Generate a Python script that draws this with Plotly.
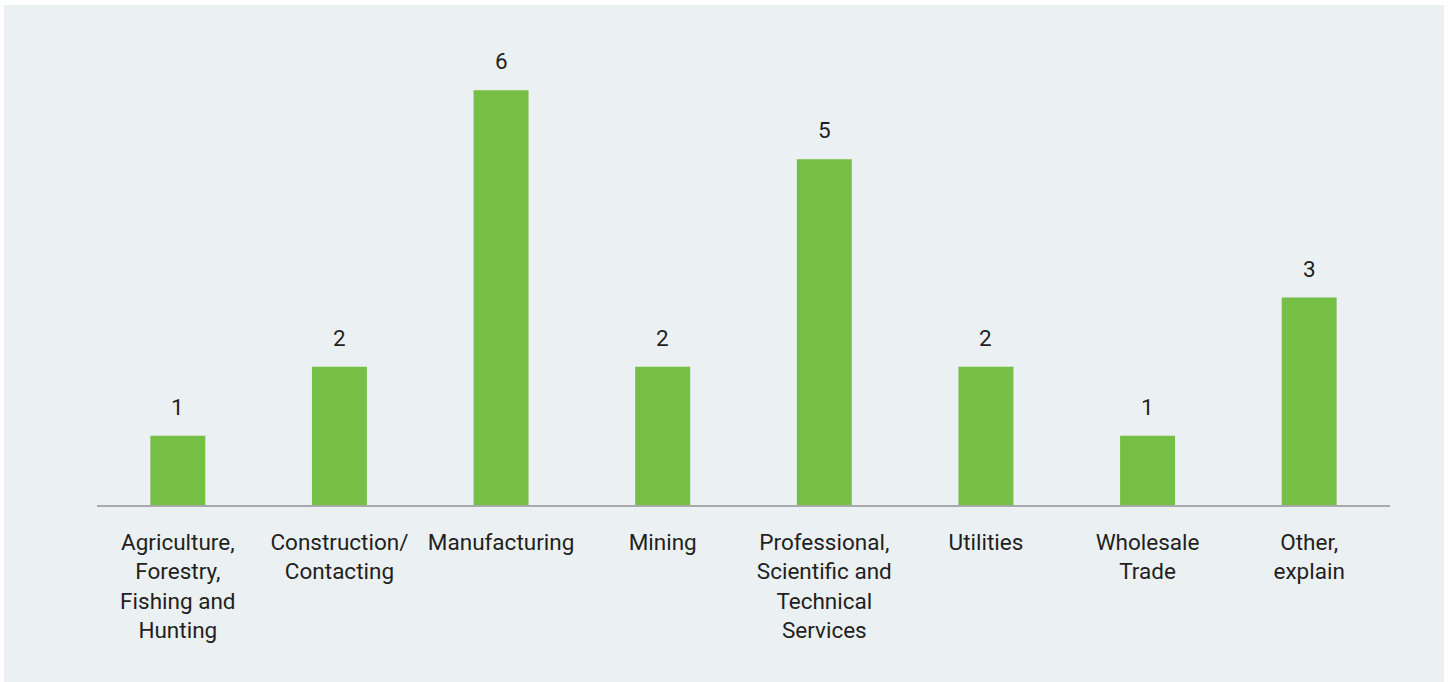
import plotly.graph_objects as go

categories = [
    "Agriculture,<br>Forestry,<br>Fishing and<br>Hunting",
    "Construction/<br>Contacting",
    "Manufacturing",
    "Mining",
    "Professional,<br>Scientific and<br>Technical<br>Services",
    "Utilities",
    "Wholesale<br>Trade",
    "Other,<br>explain",
]
values = [1, 2, 6, 2, 5, 2, 1, 3]

BG = "#EBF0F3"
GREEN = "#74BF44"
TEXT = "#231F20"
FONT = "Roboto"
FS = 22.5

fig = go.Figure(
    go.Bar(
        x=categories,
        y=values,
        marker=dict(color=GREEN, line=dict(width=0)),
        cliponaxis=False,
        hoverinfo="skip",
    )
)

annotations = [
    dict(
        x=c, y=v, xref="x", yref="y", text=str(v), showarrow=False,
        yanchor="bottom", yshift=14,
        font=dict(family=FONT, size=FS, color=TEXT),
    )
    for c, v in zip(categories, values)
]

fig.update_layout(
    width=1450,
    height=682,
    margin=dict(l=97, r=60, t=21, b=177),
    paper_bgcolor="white",
    plot_bgcolor="rgba(0,0,0,0)",
    bargap=0.66,
    showlegend=False,
    font=dict(family=FONT, size=FS, color=TEXT),
    annotations=annotations,
    shapes=[
        dict(
            type="rect",
            xref="paper",
            yref="paper",
            x0=-93 / 1293,
            x1=1 + 54 / 1293,
            y0=-177 / 484,
            y1=1 + 16 / 484,
            fillcolor=BG,
            line=dict(width=0),
            layer="below",
        )
    ],
)

fig.update_xaxes(
    showline=True,
    linecolor="#A7A9AC",
    linewidth=2,
    ticks="",
    ticklabelstandoff=16,
    tickfont=dict(family=FONT, size=FS, color=TEXT),
    showgrid=False,
    zeroline=False,
)
fig.update_yaxes(
    range=[0, 7],
    visible=False,
    showgrid=False,
    zeroline=False,
)

fig.write_html("out.html")
